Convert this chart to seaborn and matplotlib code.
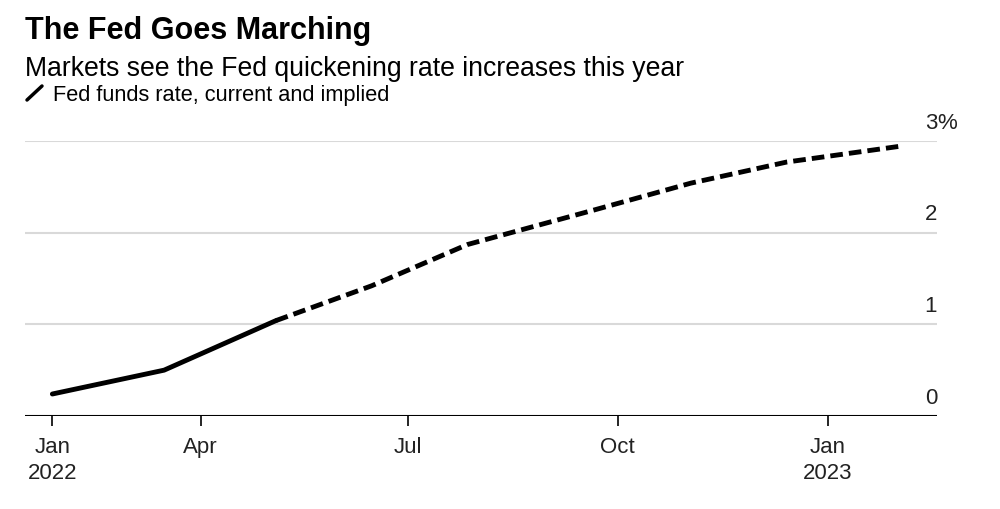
import matplotlib
matplotlib.use("Agg")
import matplotlib.pyplot as plt
from matplotlib.lines import Line2D
import seaborn as sns
import pandas as pd

# ---- data ----
meeting_dates = ["2022-01-26", "2022-03-16", "2022-05-04", "2022-06-15",
                 "2022-07-27", "2022-09-21", "2022-11-02", "2022-12-14",
                 "2023-02-01"]
rates = [0.24, 0.50, 1.04, 1.42, 1.87, 2.25, 2.54, 2.77, 2.94]
current_until = 2  # index of last "current" point; implied starts there

tick_dates = ["2022-01-26", "2022-04-01", "2022-07-01", "2022-10-01", "2023-01-01"]
tick_labels = ["Jan\n2022", "Apr", "Jul", "Oct", "Jan\n2023"]
y_ticks = [0, 1, 2, 3]
y_labels = ["0", "1", "2", "3"]

title = "The Fed Goes Marching"
subtitle = "Markets see the Fed quickening rate increases this year"
legend_label = "Fed funds rate, current and implied"

# ---- frame ----
df = pd.DataFrame({"date": pd.to_datetime(meeting_dates), "rate": rates})
cur = df.iloc[: current_until + 1]
imp = df.iloc[current_until:]

sns.set_theme(style="white")
plt.rcParams["font.family"] = ["Liberation Sans", "DejaVu Sans"]

W, H = 1000, 509
fig = plt.figure(figsize=(W / 100, H / 100), dpi=100)
ax = fig.add_axes([25 / W, (H - 416) / H, (937 - 25) / W, (416 - 141) / H])

sns.lineplot(data=cur, x="date", y="rate", ax=ax, color="black", linewidth=3.5,
             solid_capstyle="round")
sns.lineplot(data=imp, x="date", y="rate", ax=ax, color="black", linewidth=3.5)
ax.lines[-1].set_dashes((2.6, 1.25))

ax.set_xlim(pd.Timestamp("2022-01-14"), pd.Timestamp("2023-02-18"))
ax.set_ylim(0, 3)

# gridlines
for yv in y_ticks[1:]:
    ax.axhline(yv, color="#d9d9d9", linewidth=1.5, zorder=0)
ax.axhline(0, color="black", linewidth=1.5, zorder=3)

for s in ax.spines.values():
    s.set_visible(False)

ax.set_yticks([])
ax.set_xticks(pd.to_datetime(tick_dates))
ax.set_xticklabels(tick_labels, fontsize=16, color="#222222", linespacing=1.3)
ax.tick_params(axis="x", length=7, width=1.2, color="black", pad=8, direction="out",
               bottom=True)
ax.set_xlabel("")
ax.set_ylabel("")

# y labels on the right, above grid lines
for yv, lab in zip(y_ticks, y_labels):
    ax.annotate(lab, xy=(1, yv), xycoords=("axes fraction", "data"),
                xytext=(0, 9), textcoords="offset points",
                ha="right", va="baseline", fontsize=16, color="#222222")
    if yv == y_ticks[-1]:
        ax.annotate("%", xy=(1, yv), xycoords=("axes fraction", "data"),
                    xytext=(0, 9), textcoords="offset points",
                    ha="left", va="baseline", fontsize=16, color="#222222")

# titles
fig.text(25 / W, 1 - 39 / H, title, fontsize=22, fontweight="bold",
         ha="left", va="baseline", color="black")
fig.text(25 / W, 1 - 76 / H, subtitle, fontsize=19.2, ha="left", va="baseline",
         color="black")
fig.add_artist(Line2D([27 / W, 42 / W], [1 - 100 / H, 1 - 86 / H],
                      color="black", linewidth=2.5, transform=fig.transFigure))
fig.text(53 / W, 1 - 101 / H, legend_label, fontsize=15.7, ha="left",
         va="baseline", color="black")

fig.savefig("out.png", dpi=100, facecolor="white")
